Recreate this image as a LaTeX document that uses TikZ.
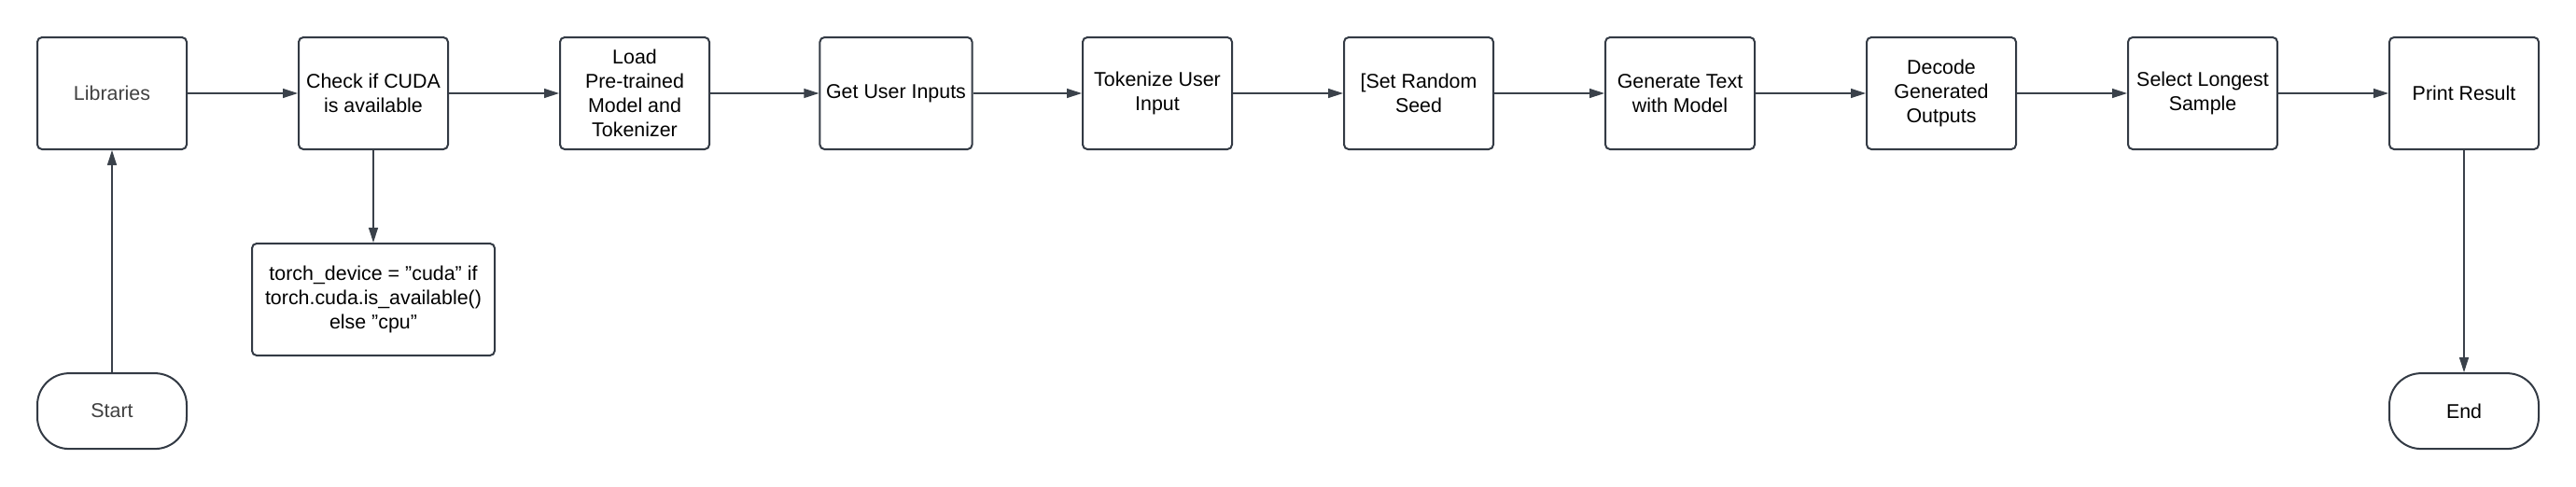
\documentclass[tikz,border=0pt]{standalone}
\usepackage{fontspec}
\setmainfont{Liberation Sans}
\usetikzlibrary{arrows.meta}
\definecolor{borda}{HTML}{333A44}
\definecolor{linha}{HTML}{3A414A}

\begin{document}
\begin{tikzpicture}[
                x=10pt, y=-10pt,
                caixa/.style={draw=borda, line width=1pt, rounded corners=2.5pt, minimum width=80pt, minimum height=60pt, align=center, font=\fontsize{10.7}{13}\selectfont},
                terminal/.style={caixa, minimum height=40.5pt, rounded corners=17pt},
                seta/.style={draw=linha, line width=0.6pt, -{Triangle[length=8pt, width=5pt]}},
            ]
            \useasboundingbox (0, 0) rectangle (138, 26.05);

            \node[caixa, text=black!75] (lib) at (6, 5) {Libraries};
            \node[caixa] (cuda) at (20, 5) {Check if CUDA\\is available};
            \node[caixa] (load) at (34, 5) {Load\\Pre-trained\\Model and\\Tokenizer};
            \node[caixa] (inp) at (48, 5) {Get User Inputs};
            \node[caixa] (tok) at (62, 5) {Tokenize User\\Input};
            \node[caixa] (seed) at (76, 5) {[Set Random\\Seed};
            \node[caixa] (gen) at (90, 5) {Generate Text\\with Model};
            \node[caixa] (dec) at (104, 5) {Decode\\Generated\\Outputs};
            \node[caixa] (sel) at (118, 5) {Select Longest\\Sample};
            \node[caixa] (res) at (132, 5) {Print Result};
            \node[caixa, minimum width=130pt] (dev) at (20, 16.05) {torch\_device = "cuda" if\\torch.cuda.is\_available()\\else "cpu"};
            \node[terminal, text=black!75] (ini) at (6, 22.03) {Start};
            \node[terminal] (fim) at (132, 22.03) {End};

            \draw[seta] (ini) -- (lib);
            \draw[seta] (lib) -- (cuda);
            \draw[seta] (cuda) -- (dev);
            \draw[seta] (cuda) -- (load);
            \draw[seta] (load) -- (inp);
            \draw[seta] (inp) -- (tok);
            \draw[seta] (tok) -- (seed);
            \draw[seta] (seed) -- (gen);
            \draw[seta] (gen) -- (dec);
            \draw[seta] (dec) -- (sel);
            \draw[seta] (sel) -- (res);
            \draw[seta] (res) -- (fim);
        \end{tikzpicture}
\end{document}
